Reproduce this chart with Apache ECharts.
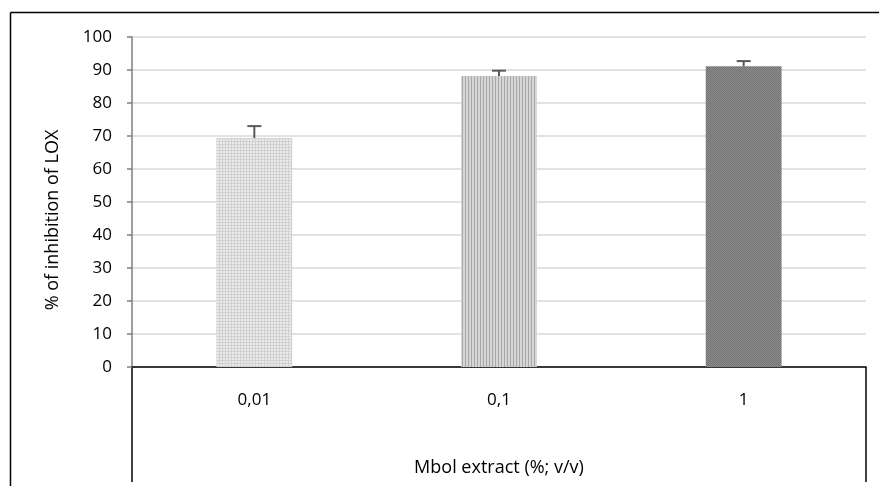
<!DOCTYPE html>
<html>
<head>
<meta charset="utf-8">
<script src="https://cdn.jsdelivr.net/npm/echarts@6/dist/echarts.min.js"></script>
<style>
  html, body { margin: 0; padding: 0; background: #fff; }
  #chart { width: 879px; height: 486px; }
</style>
</head>
<body>
<div id="chart"></div>
<script>
// data
const categories = ['0,01', '0,1', '1'];
const inhibition = [69.4, 88.2, 91.1];
const errUpper = [3.6, 1.6, 1.6];
const yTicks = [0, 10, 20, 30, 40, 50, 60, 70, 80, 90, 100];

// small canvas tiles for the hatched fills
function makeTile(w, h, draw) {
  const c = document.createElement('canvas');
  c.width = w; c.height = h;
  draw(c.getContext('2d'));
  return c;
}
const dotTile = makeTile(3, 3, ctx => {
  ctx.fillStyle = '#ebebeb'; ctx.fillRect(0, 0, 3, 3);
  ctx.fillStyle = '#d0d0d0'; ctx.fillRect(0, 0, 3, 1); ctx.fillRect(0, 0, 1, 3);
});
const stripeTile = makeTile(3, 3, ctx => {
  ctx.fillStyle = '#d6d6d6'; ctx.fillRect(0, 0, 3, 3);
  ctx.fillStyle = '#a8a8a8'; ctx.fillRect(0, 0, 1, 3);
});
const darkTile = makeTile(2, 2, ctx => {
  ctx.fillStyle = '#8c8c8c'; ctx.fillRect(0, 0, 2, 2);
  ctx.fillStyle = '#747474'; ctx.fillRect(0, 0, 1, 1); ctx.fillRect(1, 1, 1, 1);
});
const fills = [dotTile, stripeTile, darkTile];

const font = '"Open Sans", "Liberation Sans", sans-serif';
const chart = echarts.init(document.getElementById('chart'));

const option = {
  animation: false,
  backgroundColor: '#fff',
  grid: { left: 132, right: 13, top: 37, bottom: 119 },
  xAxis: {
    type: 'category',
    data: categories,
    name: 'Mbol extract (%; v/v)',
    nameLocation: 'middle',
    nameGap: 92,
    nameTextStyle: { fontFamily: font, fontSize: 18, color: '#000' },
    axisLine: { lineStyle: { color: '#000', width: 1.5 } },
    axisTick: { show: false },
    axisLabel: { fontFamily: font, fontSize: 17, color: '#000', margin: 25 }
  },
  yAxis: {
    type: 'value',
    min: yTicks[0],
    max: yTicks[yTicks.length - 1],
    interval: 10,
    name: '% of inhibition of LOX',
    nameLocation: 'middle',
    nameGap: 70,
    nameTextStyle: { fontFamily: font, fontSize: 18, color: '#000', padding: [0, 36, 0, 0] },
    axisLine: { show: true, lineStyle: { color: '#7f7f7f', width: 1.5 } },
    axisTick: { show: true, length: 5, lineStyle: { color: '#7f7f7f', width: 1.5 } },
    axisLabel: { fontFamily: font, fontSize: 17, color: '#000', margin: 20 },
    splitLine: { lineStyle: { color: '#d9d9d9', width: 1.5 } }
  },
  series: [
    {
      type: 'bar',
      barWidth: '31%',
      data: inhibition.map((v, i) => ({
        value: v,
        itemStyle: { color: { image: fills[i], repeat: 'repeat' } }
      })),
      z: 2
    },
    {
      type: 'custom',
      z: 3,
      data: inhibition.map((v, i) => [i, v, v + errUpper[i]]),
      renderItem: (params, api) => {
        const lo = api.coord([api.value(0), api.value(1)]);
        const hi = api.coord([api.value(0), api.value(2)]);
        const cap = 7;
        const style = { stroke: '#595959', lineWidth: 2 };
        return {
          type: 'group',
          children: [
            { type: 'line', shape: { x1: lo[0], y1: lo[1], x2: hi[0], y2: hi[1] }, style },
            { type: 'line', shape: { x1: hi[0] - cap, y1: hi[1], x2: hi[0] + cap, y2: hi[1] }, style }
          ]
        };
      }
    }
  ]
};
chart.setOption(option);

// frame and the table-style lines under the category axis
const gridRect = chart.getModel().getComponent('grid', 0).coordinateSystem.getRect();
const left = gridRect.x, right = gridRect.x + gridRect.width, base = gridRect.y + gridRect.height;
chart.setOption({
  graphic: [
    { type: 'line', shape: { x1: 10.5, y1: 12.5, x2: 879, y2: 12.5 }, style: { stroke: '#000', lineWidth: 1.5 } },
    { type: 'line', shape: { x1: 10.5, y1: 12.5, x2: 10.5, y2: 486 }, style: { stroke: '#000', lineWidth: 1.5 } },
    { type: 'line', shape: { x1: left, y1: base, x2: left, y2: 482 }, style: { stroke: '#000', lineWidth: 1.5 } },
    { type: 'line', shape: { x1: right, y1: base, x2: right, y2: 482 }, style: { stroke: '#000', lineWidth: 1.5 } }
  ]
});
</script>
</body>
</html>
